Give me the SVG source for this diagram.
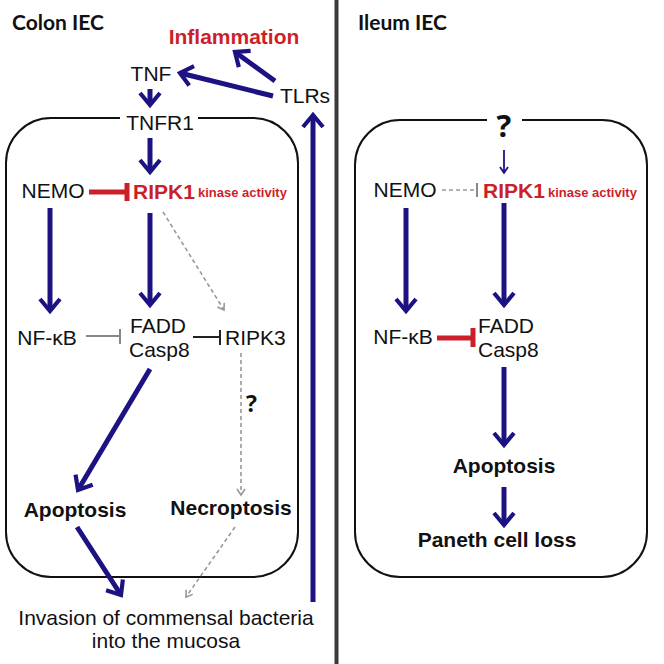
<svg xmlns="http://www.w3.org/2000/svg" width="664" height="664" viewBox="0 0 664 664">
<defs>
<style>
.t{font-family:"Liberation Sans",Arial,sans-serif;font-size:21px;fill:#111}
.b{font-weight:bold}
.red{fill:#cc1f2a}
.title{font-family:Lato,"Open Sans",sans-serif;font-weight:bold;font-size:21px;fill:#111}
.q{font-family:"Open Sans","Liberation Sans",sans-serif;font-weight:bold;fill:#111}
.box{fill:none;stroke:#111;stroke-width:2}
.blue{stroke:#1c1281;stroke-width:5;fill:none}
.bluet{stroke:#1c1281;stroke-width:1.8;fill:none}
.gd{stroke:#999;stroke-width:1.6;stroke-dasharray:4 3;fill:none}
.inR{stroke:#cc1f2a;stroke-width:5;fill:none}
.inG{stroke:#888;stroke-width:2;fill:none}
.inK{stroke:#222;stroke-width:2;fill:none}
</style>
<marker id="ab" markerUnits="userSpaceOnUse" viewBox="-16 -14 20 28" markerWidth="20" markerHeight="28" refX="0" refY="0" orient="auto" overflow="visible">
<path d="M-12,-10 L0,0 L-12,10" fill="none" stroke="#1c1281" stroke-width="4.2" stroke-linejoin="miter"/>
</marker>
<marker id="abt" markerUnits="userSpaceOnUse" viewBox="-8 -6 10 12" markerWidth="10" markerHeight="12" refX="0" refY="0" orient="auto" overflow="visible">
<path d="M-6,-4 L0,0 L-6,4" fill="none" stroke="#1c1281" stroke-width="1.8"/>
</marker>
<marker id="ag" markerUnits="userSpaceOnUse" viewBox="-8 -6 10 12" markerWidth="10" markerHeight="12" refX="0" refY="0" orient="auto" overflow="visible">
<path d="M-6,-4 L0,0 L-6,4" fill="none" stroke="#999" stroke-width="1.6"/>
</marker>
</defs>
<rect width="664" height="664" fill="#fff"/>
<line x1="336.5" y1="0" x2="336.5" y2="664" stroke="#3a3a3a" stroke-width="4"/>

<g id="colon-panel">
<text class="title" x="12" y="30">Colon IEC</text>
<path class="box" d="M120,118 H51 A45,45 0 0 0 6,163 V532 A45,45 0 0 0 51,577 H253 A45,45 0 0 0 298,532 V163 A45,45 0 0 0 253,118 H198"/>
</g>
<g id="ileum-panel">
<text class="title" x="358" y="30">Ileum IEC</text>
<path class="box" d="M487,120 H400 A45,45 0 0 0 355,165 V532 A45,45 0 0 0 400,577 H602 A45,45 0 0 0 647,532 V165 A45,45 0 0 0 602,120 H522"/>
</g>

<g id="connectors">
<line class="blue" x1="150" y1="89" x2="150" y2="105" marker-end="url(#ab)"/>
<line class="blue" x1="150" y1="138" x2="150" y2="172" marker-end="url(#ab)"/>
<line class="blue" x1="50" y1="208" x2="50" y2="311" marker-end="url(#ab)"/>
<line class="blue" x1="150" y1="213" x2="150" y2="305" marker-end="url(#ab)"/>
<line class="blue" x1="150" y1="369" x2="78" y2="490" marker-end="url(#ab)"/>
<line class="blue" x1="77" y1="527" x2="121" y2="595" marker-end="url(#ab)"/>
<line class="blue" x1="313" y1="602" x2="313" y2="115" marker-end="url(#ab)"/>
<line class="blue" x1="273" y1="96" x2="180" y2="73" marker-end="url(#ab)"/>
<line class="blue" x1="275" y1="81" x2="235" y2="52" marker-end="url(#ab)"/>
<line class="gd" x1="163" y1="212" x2="224" y2="310" marker-end="url(#ag)"/>
<line class="gd" x1="241" y1="353" x2="241" y2="495" marker-end="url(#ag)"/>
<line class="gd" x1="235" y1="527" x2="186" y2="597" marker-end="url(#ag)"/>
<path class="inR" d="M89,192 H127 M127,183 V201"/>
<path class="inG" d="M86,336 H120 M120,329 V344"/>
<path class="inK" d="M193,337 H220 M220,330 V345"/>

<line class="bluet" x1="504" y1="150" x2="504" y2="173" marker-end="url(#abt)"/>
<line class="blue" x1="406" y1="208" x2="406" y2="311" marker-end="url(#ab)"/>
<line class="blue" x1="504" y1="203" x2="504" y2="305" marker-end="url(#ab)"/>
<line class="blue" x1="504" y1="367" x2="504" y2="445" marker-end="url(#ab)"/>
<line class="blue" x1="504" y1="487" x2="504" y2="525" marker-end="url(#ab)"/>
<path class="gd" d="M442,190 H477"/>
<path class="inG" d="M477,183 V197" stroke="#999"/>
<path class="inR" d="M437,338 H473 M473,328 V347"/>
</g>

<g id="inflammation"><text class="t b red" x="234" y="44" text-anchor="middle">Inflammation</text></g>
<g id="tnf"><text class="t" x="151" y="81" text-anchor="middle">TNF</text></g>
<g id="tlrs"><text class="t" x="305" y="103" text-anchor="middle">TLRs</text></g>
<g id="tnfr1"><text class="t" x="160" y="130" text-anchor="middle">TNFR1</text></g>
<g id="nemo-c"><text class="t" x="53" y="198" text-anchor="middle">NEMO</text></g>
<g id="ripk1-c"><text class="t b red" x="133" y="199">RIPK1</text><text class="t b red" x="198" y="197" style="font-size:13px">kinase activity</text></g>
<g id="nfkb-c"><text class="t" x="47" y="345" text-anchor="middle">NF-κB</text></g>
<g id="fadd-c"><text class="t" x="130" y="333">FADD</text><text class="t" x="129" y="357">Casp8</text></g>
<g id="ripk3"><text class="t" x="225" y="345">RIPK3</text></g>
<g id="q-c"><text class="q" x="246" y="412" style="font-size:23px">?</text></g>
<g id="apoptosis-c"><text class="t b" x="75" y="517" text-anchor="middle">Apoptosis</text></g>
<g id="necroptosis"><text class="t b" x="231" y="515" text-anchor="middle">Necroptosis</text></g>
<g id="invasion"><text class="t" x="166" y="625" text-anchor="middle">Invasion of commensal bacteria</text><text class="t" x="166" y="648" text-anchor="middle">into the mucosa</text></g>

<g id="q-i"><text class="q" x="504" y="137" text-anchor="middle" style="font-size:31px">?</text></g>
<g id="nemo-i"><text class="t" x="405" y="197" text-anchor="middle">NEMO</text></g>
<g id="ripk1-i"><text class="t b red" x="483" y="198">RIPK1</text><text class="t b red" x="548" y="197" style="font-size:13px">kinase activity</text></g>
<g id="nfkb-i"><text class="t" x="403" y="344" text-anchor="middle">NF-κB</text></g>
<g id="fadd-i"><text class="t" x="478" y="333">FADD</text><text class="t" x="478" y="357">Casp8</text></g>
<g id="apoptosis-i"><text class="t b" x="504" y="473" text-anchor="middle">Apoptosis</text></g>
<g id="paneth"><text class="t b" x="497" y="547" text-anchor="middle">Paneth cell loss</text></g>
</svg>
